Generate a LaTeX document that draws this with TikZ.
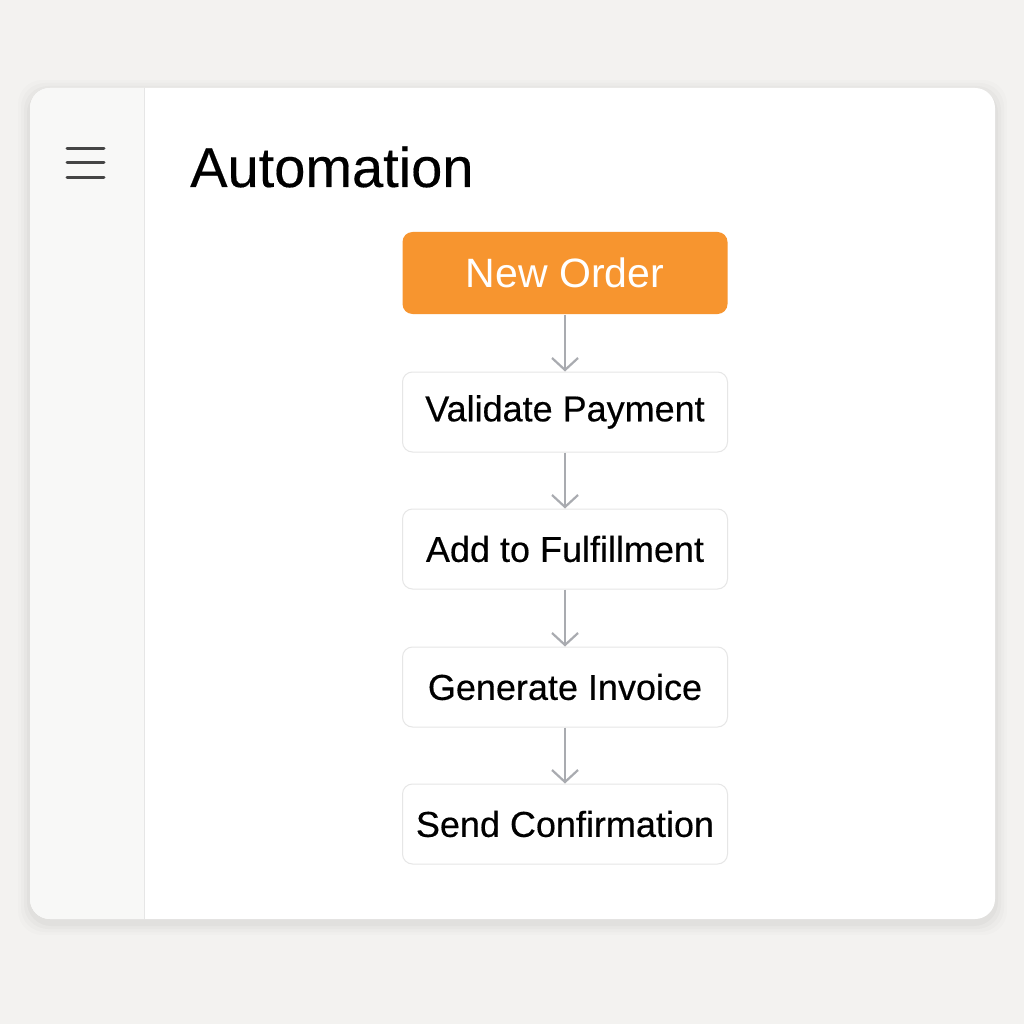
\documentclass[tikz,border=0pt]{standalone}
\usepackage{fontspec}
\setmainfont{Liberation Sans}
\usetikzlibrary{arrows.meta}
\definecolor{bgc}{HTML}{F3F2F0}
\definecolor{sidec}{HTML}{F8F8F7}
\definecolor{linec}{HTML}{E6E6E6}
\definecolor{orangec}{HTML}{F7952F}
\definecolor{arrc}{HTML}{A9ABB0}
\definecolor{burgerc}{HTML}{454545}
\tikzset{
  stepbox/.style={draw=linec, line width=1pt, fill=white, rounded corners=10pt,
    minimum width=325pt, minimum height=80pt, inner sep=0pt,
    font=\fontsize{36}{42}\selectfont\addfontfeature{FakeBold=0.4}, text=black},
  startbox/.style={stepbox, draw=none, fill=orangec, minimum height=82pt,
    font=\fontsize{41}{46}\selectfont, text=white},
  flow/.style={draw=arrc, line width=2.2pt, -{Straight Barb[length=12pt,width=26pt,line width=2.2pt]}},
  burger/.style={draw=burgerc, line width=3pt, line cap=round}
}
\begin{document}
\begin{tikzpicture}[x=1pt,y=-1pt]
\useasboundingbox (0,0) rectangle (1024,1024);
\fill[bgc] (0,0) rectangle (1024,1024);
% soft shadow
\foreach \d/\o in {12/0.012,9/0.015,6/0.02,3/0.025}{
  \fill[black,opacity=\o,rounded corners=24pt] (30-\d,88-\d+4) rectangle (995+\d,919+\d+4);
}
% card
\fill[white,rounded corners=20pt] (30,88) rectangle (995,919);
\begin{scope}
  \clip[rounded corners=20pt] (30,88) rectangle (995,919);
  \fill[sidec] (30,88) rectangle (144,919);
\end{scope}
\draw[linec,line width=1pt] (144,88) -- (144,919);
% hamburger
\coordinate (h1a) at (67,149); \coordinate (h1b) at (104,149);
\coordinate (h2a) at (67,163); \coordinate (h2b) at (104,163);
\coordinate (h3a) at (67,178); \coordinate (h3b) at (104,178);
\draw[burger] (h1a) -- (h1b);
\draw[burger] (h2a) -- (h2b);
\draw[burger] (h3a) -- (h3b);
% title
\node[anchor=base west, inner sep=0pt, font=\fontsize{56}{60}\selectfont\addfontfeature{FakeBold=0.3}] (title) at (190,187) {Automation};
% flow
\node[startbox] (n1) at (565,273) {New Order};
\node[stepbox] (n2) at (565,412) {Validate Payment};
\node[stepbox] (n3) at (565,549) {Add to Fulfillment};
\node[stepbox] (n4) at (565,687) {Generate Invoice};
\node[stepbox] (n5) at (565,824) {Send Confirmation};
\draw[flow] (n1.south) -- (n2.north);
\draw[flow] (n2.south) -- (n3.north);
\draw[flow] (n3.south) -- (n4.north);
\draw[flow] (n4.south) -- (n5.north);
\end{tikzpicture}
\end{document}
